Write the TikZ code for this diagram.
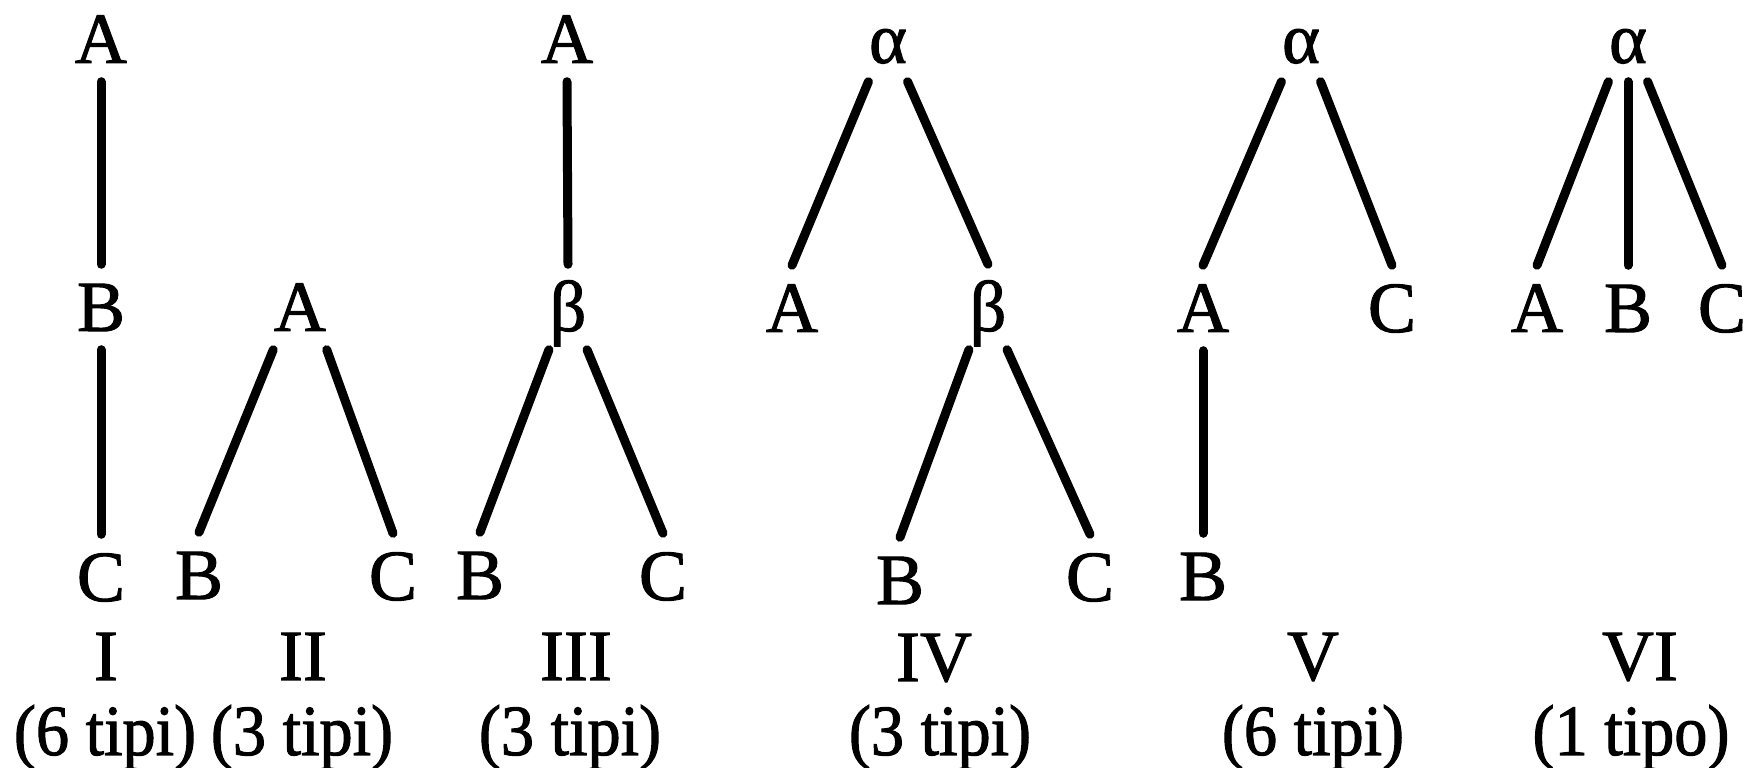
\documentclass[tikz,border=0pt]{standalone}
\usepackage{fontspec}
\setmainfont{Liberation Serif}
\newfontfamily\treefont[FakeBold=1.4]{Liberation Serif}
\newfontfamily\countfont[FakeBold=1.4,FakeStretch=0.92]{Liberation Serif}
\usetikzlibrary{positioning}

\begin{document}
\begin{tikzpicture}[
                  x=0.1mm,y=-0.1mm,
                  font=\treefont\fontsize{20.5}{24}\selectfont,
                  lt/.style={anchor=base,inner xsep=0pt,inner ysep=1.8mm,text height=4.8mm,text depth=0pt},
                  num/.style={anchor=base},
                  cnt/.style={anchor=base,font=\countfont\fontsize{20.5}{24}\selectfont},
                  ln/.style={line width=0.9mm,line cap=round}
                ]
                \useasboundingbox (0,0) rectangle (1753,768);
                \node[lt] (a1) at (101,63) {A};
                \node[lt] (b1) at (101,331) {B};
                \node[lt] (c1) at (101,601) {C};
                \node[lt] (a2) at (300,331) {A};
                \node[lt] (b2) at (199,599) {B};
                \node[lt] (c2) at (393,600) {C};
                \node[lt] (a3) at (567,63) {A};
                \node[lt] (be3) at (568,331) {β};
                \node[lt] (b3) at (480,599) {B};
                \node[lt] (c3) at (663,600) {C};
                \node[lt] (al4) at (888,63) {α};
                \node[lt] (a4) at (792,332) {A};
                \node[lt] (be4) at (988,331) {β};
                \node[lt] (b4) at (900,604) {B};
                \node[lt] (c4) at (1090,601) {C};
                \node[lt] (al5) at (1301,63) {α};
                \node[lt] (a5) at (1203,332) {A};
                \node[lt] (c5) at (1392,332) {C};
                \node[lt] (b5) at (1203,600) {B};
                \node[lt] (al6) at (1628,63) {α};
                \node[lt] (a6) at (1537,332) {A};
                \node[lt] (b6) at (1628,332) {B};
                \node[lt] (c6) at (1722,332) {C};
                
                \node[num] (n1) at (106,680) {I};
                \node[num] (n2) at (303,680) {II};
                \node[num] (n3) at (576,680) {III};
                \node[num] (n4) at (934,681) {IV};
                \node[num] (n5) at (1313,680) {V};
                \node[num] (n6) at (1640,680) {VI};
                \node[cnt] (t1) at (105,755) {(6 tipi)};
                \node[cnt] (t2) at (302,755) {(3 tipi)};
                \node[cnt] (t3) at (570,755) {(3 tipi)};
                \node[cnt] (t4) at (940,755) {(3 tipi)};
                \node[cnt] (t5) at (1313,755) {(6 tipi)};
                \node[cnt] (t6) at (1631,755) {(1 tipo)};
                
                \draw[ln] (a1.south) -- (b1.north);
                \draw[ln] (b1.south) -- (c1.north);
                \draw[ln] (a2.south west) -- (b2.north);
                \draw[ln] (a2.south east) -- (c2.north);
                \draw[ln] (a3.south) -- (be3.north);
                \draw[ln] (be3.south west) -- (b3.north);
                \draw[ln] (be3.south east) -- (c3.north);
                \draw[ln] (al4.south west) -- (a4.north);
                \draw[ln] (al4.south east) -- (be4.north);
                \draw[ln] (be4.south west) -- (b4.north);
                \draw[ln] (be4.south east) -- (c4.north);
                \draw[ln] (al5.south west) -- (a5.north);
                \draw[ln] (al5.south east) -- (c5.north);
                \draw[ln] (a5.south) -- (b5.north);
                \draw[ln] (al6.south west) -- (a6.north);
                \draw[ln] (al6.south) -- (b6.north);
                \draw[ln] (al6.south east) -- (c6.north);
                \end{tikzpicture}
\end{document}
